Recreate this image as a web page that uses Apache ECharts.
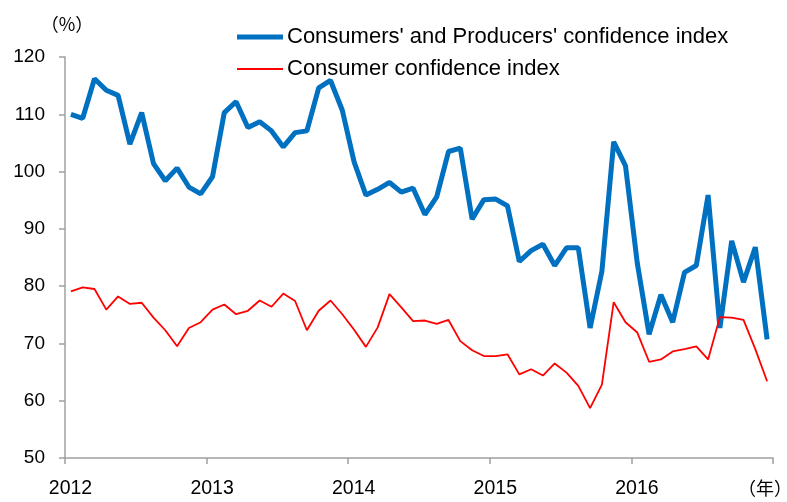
<!DOCTYPE html>
<html>
<head>
<meta charset="utf-8">
<script src="https://cdn.jsdelivr.net/npm/echarts@6/dist/echarts.min.js"></script>
<style>
  html, body { margin: 0; padding: 0; background: #fff; }
  #chart { width: 787px; height: 502px; }
</style>
</head>
<body>
<div id="chart"></div>
<script>
// monthly, Jan 2012 .. Dec 2016
const months = [];
for (let y = 2012; y <= 2016; y++) {
  for (let m = 1; m <= 12; m++) months.push(y + '-' + m);
}

const yearTicks = [2012, 2013, 2014, 2015, 2016, 2017];

const producersIndex = [
  110.0, 109.3, 116.2, 114.2, 113.3, 104.8, 110.3, 101.4, 98.4, 100.6, 97.3, 96.1,
  99.1, 110.3, 112.2, 107.7, 108.7, 107.1, 104.3, 106.8, 107.1, 114.6, 115.9, 110.7,
  101.7, 95.9, 96.9, 98.1, 96.4, 97.1, 92.5, 95.6, 103.5, 104.1, 91.7, 95.1,
  95.2, 94.0, 84.3, 86.2, 87.3, 83.6, 86.7, 86.7, 72.7, 82.6, 105.2, 101.0,
  84.0, 71.6, 78.5, 73.7, 82.4, 83.6, 95.9, 72.7, 87.9, 80.7, 86.8, 70.7
];

const consumerIndex = [
  79.1, 79.8, 79.5, 75.9, 78.2, 76.9, 77.1, 74.5, 72.3, 69.5, 72.7, 73.7,
  75.9, 76.8, 75.1, 75.7, 77.5, 76.4, 78.7, 77.4, 72.3, 75.7, 77.5, 75.1,
  72.4, 69.4, 72.8, 78.6, 76.3, 73.9, 74.0, 73.4, 74.1, 70.4, 68.8, 67.8,
  67.8, 68.1, 64.6, 65.5, 64.4, 66.5, 64.9, 62.6, 58.7, 62.8, 77.2, 73.7,
  71.9, 66.8, 67.2, 68.6, 69.0, 69.5, 67.2, 74.6, 74.5, 74.1, 69.0, 63.4
];

const seriesNames = [
  "Consumers' and Producers' confidence index",
  'Consumer confidence index'
];

const font = 'Liberation Sans';
const axisGray = '#a0a0a0';
const blue = '#0070C0';
const red = '#FF0000';

const chart = echarts.init(document.getElementById('chart'));

// one legend per series so each key line can have its own thickness
const legendBase = {
  orient: 'vertical',
  left: 237,
  padding: 0,
  itemWidth: 46,
  icon: 'rect',
  textStyle: { fontFamily: font, fontSize: 22, color: '#000', padding: [0, 0, 0, -1] }
};

chart.setOption({
  animation: false,
  backgroundColor: '#fff',
  textStyle: { fontFamily: font },
  legend: [
    Object.assign({}, legendBase, {
      top: 26,
      itemHeight: 5,
      data: [{ name: seriesNames[0], itemStyle: { color: blue } }]
    }),
    Object.assign({}, legendBase, {
      top: 58,
      itemHeight: 2,
      data: [{ name: seriesNames[1], itemStyle: { color: red } }]
    })
  ],
  grid: {
    left: 65,
    right: 14,
    top: 57,
    bottom: 44
  },
  xAxis: [
    {
      type: 'category',
      data: months,
      boundaryGap: true,
      axisLine: { lineStyle: { color: axisGray, width: 1.5 } },
      axisTick: { show: false },
      axisLabel: { show: false },
      splitLine: { show: false }
    },
    {
      type: 'value',
      position: 'bottom',
      min: 2012,
      max: 2017,
      interval: 1,
      axisLine: { show: false },
      axisTick: { show: true, length: 6, lineStyle: { color: axisGray, width: 1.5 } },
      axisLabel: {
        margin: 21,
        fontSize: 19.5,
        color: '#000',
        fontFamily: font,
        padding: [0, 0, 0, 11],
        formatter: v => (yearTicks.indexOf(v) >= 0 && v < 2017 ? String(v) : '')
      },
      splitLine: { show: false }
    }
  ],
  yAxis: {
    type: 'value',
    min: 50,
    max: 120,
    interval: 10,
    name: '（%）',
    nameLocation: 'end',
    nameGap: 24,
    nameTextStyle: { fontFamily: 'Noto Sans CJK JP', fontSize: 18, color: '#000', padding: [0, 0, 0, 4] },
    axisLine: { show: true, lineStyle: { color: axisGray, width: 1.5 } },
    axisTick: { show: true, length: 6, lineStyle: { color: axisGray, width: 1.5 } },
    axisLabel: { fontSize: 19, color: '#000', margin: 20, fontFamily: font },
    splitLine: { show: false }
  },
  graphic: [
    {
      type: 'text',
      left: 738,
      top: 479,
      style: { text: '（年）', fontFamily: 'Noto Sans CJK JP', fontSize: 18, fill: '#000' }
    }
  ],
  series: [
    {
      name: seriesNames[0],
      type: 'line',
      xAxisIndex: 0,
      data: producersIndex,
      symbol: 'none',
      lineStyle: { color: blue, width: 5 },
      itemStyle: { color: blue }
    },
    {
      name: seriesNames[1],
      type: 'line',
      xAxisIndex: 0,
      data: consumerIndex,
      symbol: 'none',
      lineStyle: { color: red, width: 1.8 },
      itemStyle: { color: red }
    }
  ]
});
</script>
</body>
</html>
